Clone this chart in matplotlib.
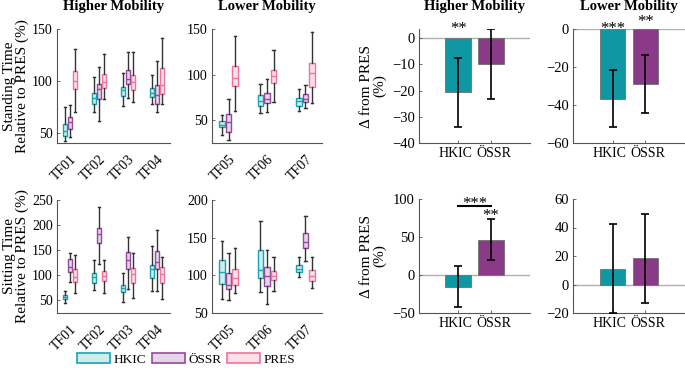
"""
Standing / sitting time relative to PRES, by foot and mobility group
"""
import matplotlib
matplotlib.use('Agg')
import matplotlib.pyplot as plt
from matplotlib.patches import Patch

plt.rcParams['font.family'] = ['Liberation Serif', 'DejaVu Serif']
plt.rcParams['font.size'] = 9

# devices and colours
devices = ['HKIC', 'ÖSSR', 'PRES']
edge_colors = ['#18A3B3', '#944A99', '#F0729A']
face_colors = ['#CDEDEF', '#E6D5E8', '#FCE0E8']
bar_colors = ['#0F97A4', '#8A3A86']

higher_feet = ['TF01', 'TF02', 'TF03', 'TF04']
lower_feet = ['TF05', 'TF06', 'TF07']

# box stats per foot, per device: (whislo, q1, median, q3, whishi)
stand_higher = [
    [(42, 46.8, 51.6, 58.7, 74.7), (46.2, 53.2, 60.6, 65.4, 76.3), (69.9, 92.3, 99.7, 109.6, 130.8)],
    [(69.9, 77.9, 83, 88.5, 103.8), (61.2, 82, 91.7, 97.1, 113), (82, 93, 98.7, 106.4, 126.3)],
    [(75.6, 85.3, 91, 94.2, 107.7), (83, 97.4, 102.2, 110.3, 127.9), (79.5, 91.3, 99, 105.8, 127.9)],
    [(77.2, 84.3, 88.5, 93.3, 106), (69.9, 77.2, 86.2, 95.5, 119.6), (77.2, 87.5, 95.8, 112.5, 141.3)],
]
stand_lower = [
    [(34.3, 42, 45.2, 48.9, 55.5), (28.5, 37.2, 47.8, 57.3, 73.4), (60.2, 87.2, 96.3, 109.9, 142.7)],
    [(57.7, 66, 71.5, 78.1, 89.4), (59.5, 69, 73.7, 79.9, 95.2), (70, 90.9, 98.2, 105.5, 127.4)],
    [(60.2, 66, 70.8, 74.4, 84.3), (63.5, 70, 73.7, 78.8, 88.3), (68.6, 86.1, 101.8, 112.8, 146.7)],
]
sit_higher = [
    [(44.7, 53.3, 56.6, 59.9, 69.2), (87.7, 107.6, 116.2, 132.1, 144), (64.5, 87.7, 96.3, 112.9, 140.7)],
    [(71.2, 85.7, 96.3, 105.6, 130.8), (122.8, 163.9, 181.8, 193.7, 236.8), (64.5, 89.1, 97.7, 108.9, 130.8)],
    [(46, 65.9, 74.5, 81.1, 104.3), (72.5, 112.2, 130.1, 146, 175.8), (54.6, 84.4, 103, 114.2, 145.4)],
    [(67.9, 94.4, 112.2, 120.9, 159.3), (67.9, 112.2, 127.5, 148.7, 190.4), (52.6, 85.7, 103, 116.2, 136.1)],
]
sit_lower = [
    [(68.5, 88.4, 103.9, 120.2, 145.8), (67.7, 81.8, 87.5, 102.9, 130.3), (76.5, 87.5, 96.3, 108.7, 136)],
    [(77.3, 97.1, 107.3, 133.8, 172.2), (62.3, 86.2, 98.6, 110.5, 133), (78.7, 94.2, 98.6, 106.4, 124.1)],
    [(97.6, 104.7, 108.7, 113.1, 123.7), (119.3, 136, 144.4, 155.8, 178.8), (83.1, 92.8, 99.4, 107.4, 125)],
]

# bar charts: mean difference from PRES and error
bar_labels = ['HKIC', 'ÖSSR']
stand_higher_diff = [-20.7, -9.9]
stand_higher_err = [13.3, 13.3]
stand_lower_diff = [-36.8, -28.9]
stand_lower_err = [15.0, 15.3]
sit_higher_diff = [-15.7, 46.4]
sit_higher_err = [27.0, 27.0]
sit_lower_diff = [11.2, 18.4]
sit_lower_err = [31.3, 31.1]

W, H = 685, 372
fig = plt.figure(figsize=(W / 100, H / 100), dpi=100)


def px_axes(x0, y0, x1, y1):
    return fig.add_axes([x0 / W, 1 - y1 / H, (x1 - x0) / W, (y1 - y0) / H])


def style(ax):
    for s in ['top', 'right']:
        ax.spines[s].set_visible(False)
    for s in ['left', 'bottom']:
        ax.spines[s].set_color('#555555')
        ax.spines[s].set_linewidth(0.8)
    ax.tick_params(direction='in', length=2, width=0.6, color='#555555',
                   labelsize=10, pad=3)


def box_panel(ax, data, feet, ylim, yticks):
    offsets = [-0.17, 0.0, 0.17]
    for d in range(3):
        stats = []
        for f in range(len(feet)):
            lo, q1, med, q3, hi = data[f][d]
            stats.append(dict(whislo=lo, q1=q1, med=med, q3=q3, whishi=hi))
        pos = [f + 1 + offsets[d] for f in range(len(feet))]
        ax.bxp(stats, positions=pos, widths=0.14, patch_artist=True,
               showfliers=False, capwidths=0.07,
               boxprops=dict(facecolor=face_colors[d], edgecolor=edge_colors[d], linewidth=1.0),
               medianprops=dict(color=edge_colors[d], linewidth=1.0),
               whiskerprops=dict(color='#333333', linewidth=1.0),
               capprops=dict(color='#333333', linewidth=1.0), zorder=3)
    ax.set_xlim(0.55, len(feet) + 0.45)
    ax.set_ylim(*ylim)
    ax.set_yticks(yticks)
    ax.set_xticks(range(1, len(feet) + 1))
    ax.set_xticklabels(feet, rotation=45, ha='right', rotation_mode='anchor', fontsize=9.5)
    style(ax)
    ax.tick_params(axis='x', length=0, pad=7)


def bar_panel(ax, diff, err, ylim, yticks):
    ax.axhline(0, color='#b0b0b0', linewidth=1.0, zorder=1)
    ax.bar([1, 2], diff, width=0.78, color=bar_colors, edgecolor='#707070',
           linewidth=0.6, zorder=2)
    ax.errorbar([1, 2], diff, yerr=err, fmt='none', ecolor='black',
                elinewidth=1.2, capsize=3, capthick=1.2, zorder=3, clip_on=True)
    ax.set_xlim(-0.2, 3.2)
    ax.set_ylim(*ylim)
    ax.set_yticks(yticks)
    style(ax)
    # tick marks at the bars, labels spread a little apart as in the original
    ax.set_xticks([1, 2], minor=True)
    ax.set_xticks([0.92, 2.08])
    ax.set_xticklabels(bar_labels, fontsize=10)
    ax.tick_params(axis='x', which='major', length=0)
    ax.tick_params(axis='x', which='minor', direction='in', length=2, width=0.6, color='#555555')
    ax.tick_params(axis='y', labelsize=10.5)


title_kw = dict(fontweight='bold', fontsize=10.5, pad=14)
star_kw = dict(ha='center', va='top', fontsize=12, clip_on=False)

# box plots
axA = px_axes(57, 29, 170, 143)
box_panel(axA, stand_higher, higher_feet, (40, 150), [50, 100, 150])
axA.set_title('Higher Mobility', **title_kw)
axA.set_ylabel('Standing Time\nRelative to PRES (%)', fontsize=11, linespacing=1.0, labelpad=2)

axB = px_axes(212, 29, 322, 143)
box_panel(axB, stand_lower, lower_feet, (25, 150), [50, 100, 150])
axB.set_xlim(0.57, 3.43)
axB.set_title('Lower Mobility', **title_kw)

axC = px_axes(57, 200, 170, 313)
box_panel(axC, sit_higher, higher_feet, (25, 250), [50, 100, 150, 200, 250])
axC.set_ylabel('Sitting Time\nRelative to PRES (%)', fontsize=11, linespacing=1.0, labelpad=2)

axD = px_axes(212, 200, 322, 313)
box_panel(axD, sit_lower, lower_feet, (50, 200), [50, 100, 150, 200])
axD.set_xlim(0.57, 3.43)

# bar charts
axE = px_axes(419, 29, 530, 143)
bar_panel(axE, stand_higher_diff, stand_higher_err, (-40, 3.5), [-40, -30, -20, -10, 0])
axE.set_title('Higher Mobility', **title_kw)
axE.set_ylabel('Δ from PRES\n(%)', fontsize=11, linespacing=1.0, labelpad=4)
axE.text(1, 6.6, '**', **star_kw)

axF = px_axes(573, 29, 685, 143)
bar_panel(axF, stand_lower_diff, stand_lower_err, (-60, 0), [-60, -40, -20, 0])
axF.set_title('Lower Mobility', **title_kw)
axF.text(1, 4.2, '***', **star_kw)
axF.text(2, 8.0, '**', **star_kw)

axG = px_axes(419, 199, 530, 313)
bar_panel(axG, sit_higher_diff, sit_higher_err, (-50, 100), [-50, 0, 50, 100])
axG.set_ylabel('Δ from PRES\n(%)', fontsize=11, linespacing=1.0, labelpad=4)
axG.plot([1, 2], [91, 91], color='black', linewidth=1.5, clip_on=False)
axG.text(1.5, 104, '***', **star_kw)
axG.text(2, 88, '**', **star_kw)

axH = px_axes(573, 199, 685, 313)
bar_panel(axH, sit_lower_diff, sit_lower_err, (-20, 60), [-20, 0, 20, 40, 60])

# legend
handles = [Patch(facecolor=face_colors[i], edgecolor=edge_colors[i], linewidth=1.2, label=devices[i])
           for i in range(3)]
fig.legend(handles=handles, loc='lower center', bbox_to_anchor=(186 / W, -0.008), ncol=3,
           frameon=False, fontsize=9.5, handlelength=2.5, handleheight=0.8,
           handletextpad=0.25, columnspacing=0.45, borderpad=0.2)

plt.savefig('out.png', dpi=100)
